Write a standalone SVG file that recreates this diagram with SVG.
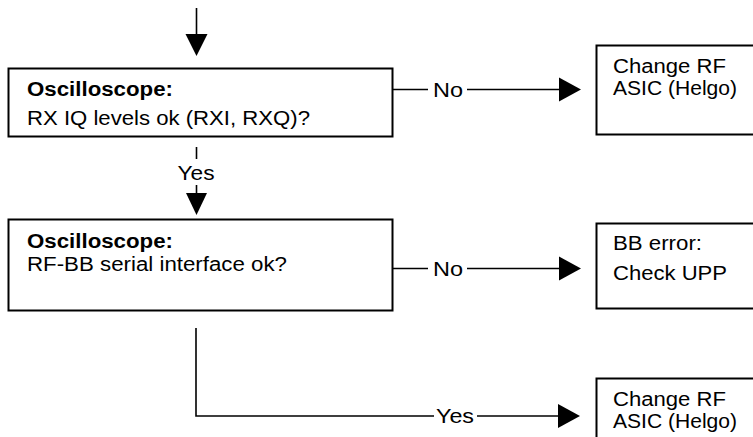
<svg xmlns="http://www.w3.org/2000/svg" width="753" height="437" viewBox="0 0 753 437">
  <style>
    .box { fill: #ffffff; stroke: #000000; stroke-width: 2; }
    .wire { fill: none; stroke: #000000; stroke-width: 1.6; }
    .head { fill: #000000; stroke: none; }
    text { font-family: "Liberation Sans", Arial, sans-serif; font-size: 19.5px; fill: #000000; }
    .title { font-weight: bold; }
  </style>
  <rect width="753" height="437" fill="#ffffff"/>

  <!-- connectors -->
  <g id="connectors">
    <!-- entry arrow -->
    <line class="wire" x1="196.5" y1="8" x2="196.5" y2="36"/>
    <polygon class="head" points="185.5,34 207.5,34 196.5,56"/>

    <!-- check 1: Yes (down) -->
    <line class="wire" x1="196.5" y1="147" x2="196.5" y2="159"/>
    <text x="177.5" y="180" textLength="37" lengthAdjust="spacingAndGlyphs">Yes</text>
    <line class="wire" x1="196.5" y1="185" x2="196.5" y2="195"/>
    <polygon class="head" points="186,193 207,193 196.5,215"/>

    <!-- check 1: No (right) -->
    <line class="wire" x1="392" y1="89.5" x2="428" y2="89.5"/>
    <text x="433" y="96.5" textLength="30" lengthAdjust="spacingAndGlyphs">No</text>
    <line class="wire" x1="467" y1="89.5" x2="562" y2="89.5"/>
    <polygon class="head" points="559,77.5 559,101.5 581,89.5"/>

    <!-- check 2: No (right) -->
    <line class="wire" x1="392" y1="268.5" x2="428" y2="268.5"/>
    <text x="433" y="275.5" textLength="30" lengthAdjust="spacingAndGlyphs">No</text>
    <line class="wire" x1="467" y1="268.5" x2="562" y2="268.5"/>
    <polygon class="head" points="559,256.5 559,280.5 581,268.5"/>

    <!-- check 2: Yes (down and right) -->
    <polyline class="wire" points="196,328 196,416 434,416"/>
    <text x="436" y="423" textLength="38" lengthAdjust="spacingAndGlyphs">Yes</text>
    <line class="wire" x1="477" y1="416" x2="561" y2="416"/>
    <polygon class="head" points="558,404 558,428 580,416"/>
  </g>

  <!-- decision: RX IQ levels -->
  <g id="check-rx-iq">
    <rect class="box" x="8.5" y="68.5" width="384" height="68"/>
    <text class="title" x="27" y="96" textLength="146" lengthAdjust="spacingAndGlyphs">Oscilloscope:</text>
    <text x="27" y="125" textLength="283" lengthAdjust="spacingAndGlyphs">RX IQ levels ok (RXI, RXQ)?</text>
  </g>

  <!-- decision: RF-BB serial interface -->
  <g id="check-rf-bb">
    <rect class="box" x="8.5" y="219.5" width="384" height="91"/>
    <text class="title" x="27" y="248" textLength="146" lengthAdjust="spacingAndGlyphs">Oscilloscope:</text>
    <text x="27" y="270.5" textLength="260" lengthAdjust="spacingAndGlyphs">RF-BB serial interface ok?</text>
  </g>

  <!-- action: change RF ASIC (after IQ check) -->
  <g id="change-rf-1">
    <rect class="box" x="596.5" y="45.5" width="170" height="89"/>
    <text x="613" y="73" textLength="113" lengthAdjust="spacingAndGlyphs">Change RF</text>
    <text x="613" y="95" textLength="124" lengthAdjust="spacingAndGlyphs">ASIC (Helgo)</text>
  </g>

  <!-- action: baseband error -->
  <g id="bb-error">
    <rect class="box" x="596.5" y="223.5" width="170" height="85"/>
    <text x="613" y="250" textLength="89" lengthAdjust="spacingAndGlyphs">BB error:</text>
    <text x="613" y="280" textLength="114" lengthAdjust="spacingAndGlyphs">Check UPP</text>
  </g>

  <!-- action: change RF ASIC (after serial interface check) -->
  <g id="change-rf-2">
    <rect class="box" x="596.5" y="378.5" width="170" height="80"/>
    <text x="613" y="406" textLength="113" lengthAdjust="spacingAndGlyphs">Change RF</text>
    <text x="613" y="428" textLength="124" lengthAdjust="spacingAndGlyphs">ASIC (Helgo)</text>
  </g>
</svg>
